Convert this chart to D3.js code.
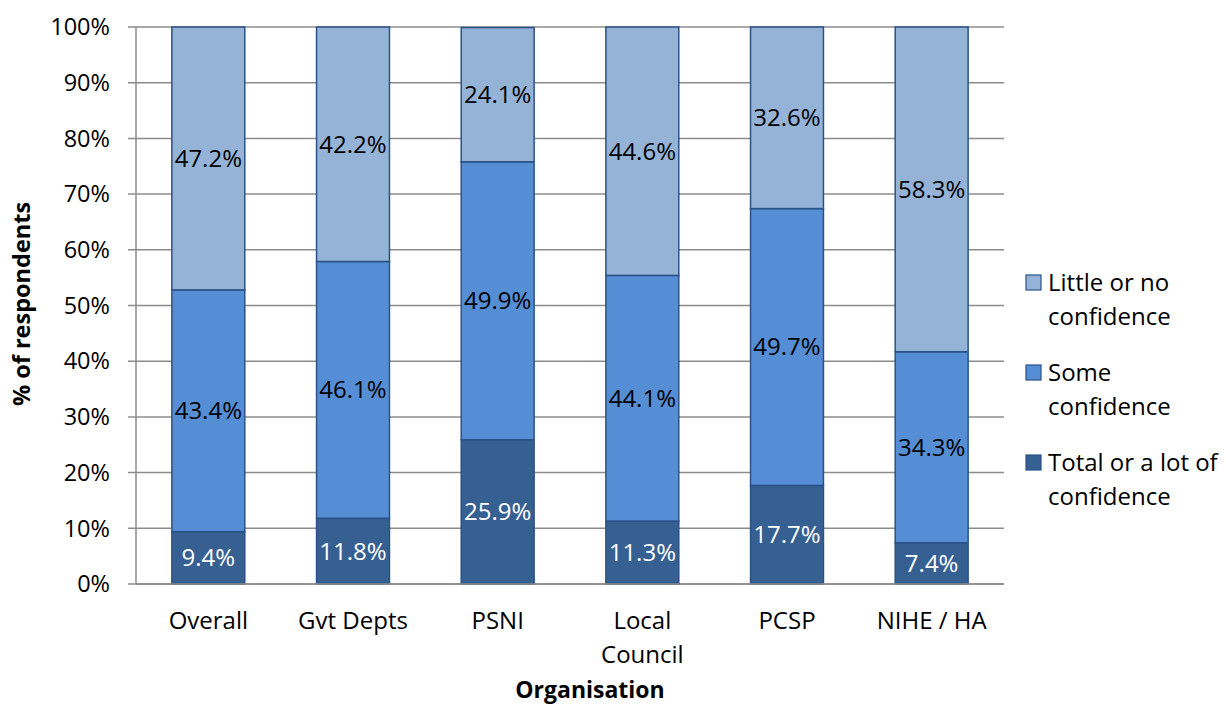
<!DOCTYPE html>
<html>
<head>
<meta charset="utf-8">
<script src="https://cdn.jsdelivr.net/npm/d3@7"></script>
<style>
html,body{margin:0;padding:0;background:#fff;}
svg{display:block;font-family:"Open Sans",sans-serif;}
</style>
</head>
<body>
<svg id="chart" width="1226" height="706"></svg>
<script>
const categories = [["Overall"],["Gvt Depts"],["PSNI"],["Local","Council"],["PCSP"],["NIHE / HA"]];
const totalLot = [9.4, 11.8, 25.9, 11.3, 17.7, 7.4];
const some = [43.4, 46.1, 49.9, 44.1, 49.7, 34.3];
const little = [47.2, 42.2, 24.1, 44.6, 32.6, 58.3];
const seriesNames = ["Total or a lot of confidence","Some confidence","Little or no confidence"];
const legendLines = [["Little or no","confidence"],["Some","confidence"],["Total or a lot of","confidence"]];
const yTicks = [0,10,20,30,40,50,60,70,80,90,100];

(function(){
const colors = ["#376092","#558ED5","#95B3D7"];
const textColors = ["#ffffff","#000000","#000000"];
const stroke = "#2A5286";

const svg = d3.select("#chart");
const pl = 136, pr = 1004, pt = 27, pb = 584;

const x = d3.scaleBand().domain(d3.range(categories.length)).range([pl, pr]).paddingInner(0.496).paddingOuter(0.248);
const y = d3.scaleLinear().domain([0,100]).range([pb, pt]);

svg.append("g").selectAll("line").data(yTicks).join("line")
  .attr("x1", pl - 8).attr("x2", pr)
  .attr("y1", d => y(d)).attr("y2", d => y(d))
  .attr("stroke", "#8c8c8c").attr("stroke-width", 1.5);

svg.append("line").attr("x1", pl).attr("x2", pl).attr("y1", pt).attr("y2", pb)
  .attr("stroke", "#8c8c8c").attr("stroke-width", 1.5);

svg.append("g").selectAll("text").data(yTicks).join("text")
  .attr("x", pl - 26).attr("y", d => y(d)).attr("dy", "0.35em")
  .attr("text-anchor", "end").attr("font-size", 23.5).attr("fill", "#000")
  .text(d => d + "%");

const data = categories.map((c, i) => [totalLot[i], some[i], little[i]]);
const stacked = data.map(vals => {
  let acc = 0;
  return vals.map((v, k) => { const s = {y0: acc, y1: acc + v, v, k}; acc += v; return s; });
});

const bars = svg.append("g");
stacked.forEach((segs, i) => {
  const g = bars.append("g");
  g.selectAll("rect").data(segs).join("rect")
    .attr("x", x(i)).attr("width", x.bandwidth())
    .attr("y", d => y(Math.min(d.y1, 100))).attr("height", d => y(d.y0) - y(Math.min(d.y1, 100)))
    .attr("fill", d => colors[d.k]).attr("stroke", stroke).attr("stroke-width", 1.5);
  g.selectAll("text").data(segs).join("text")
    .attr("x", x(i) + x.bandwidth() / 2)
    .attr("y", d => (y(d.y0) + y(Math.min(d.y1, 100))) / 2).attr("dy", "0.35em")
    .attr("text-anchor", "middle").attr("font-size", 24)
    .attr("fill", d => textColors[d.k])
    .text(d => d.v.toFixed(1) + "%");
});

svg.append("line").attr("x1", pl).attr("x2", pr).attr("y1", pb).attr("y2", pb)
  .attr("stroke", "#8c8c8c").attr("stroke-width", 1.5);

const cl = svg.append("g").selectAll("text").data(categories).join("text")
  .attr("x", (d, i) => x(i) + x.bandwidth() / 2).attr("y", 629)
  .attr("text-anchor", "middle").attr("font-size", 24).attr("fill", "#000");
cl.each(function(d, i) {
  const t = d3.select(this);
  d.forEach((ln, j) => {
    t.append("tspan").attr("x", x(i) + x.bandwidth() / 2).attr("dy", j === 0 ? 0 : 34).text(ln);
  });
});

svg.append("text").attr("x", 590).attr("y", 698).attr("text-anchor", "middle")
  .attr("font-size", 23).attr("font-weight", "bold").text("Organisation");
svg.append("text").attr("transform", "translate(30,304) rotate(-90)").attr("text-anchor", "middle")
  .attr("font-size", 23.5).attr("font-weight", "bold").text("% of respondents");

const lg = svg.append("g");
legendLines.forEach((lines, i) => {
  const k = 2 - i;
  const yy = 283 + i * 90;
  lg.append("rect").attr("x", 1026).attr("y", yy - 8).attr("width", 15).attr("height", 15)
    .attr("fill", colors[k]).attr("stroke", stroke).attr("stroke-width", 1.2);
  const t = lg.append("text").attr("font-size", 24).attr("fill", "#000");
  lines.forEach((ln, j) => {
    t.append("tspan").attr("x", 1048).attr("y", yy + j * 34).attr("dy", "0.35em").text(ln);
  });
});
})();
</script>
</body>
</html>
